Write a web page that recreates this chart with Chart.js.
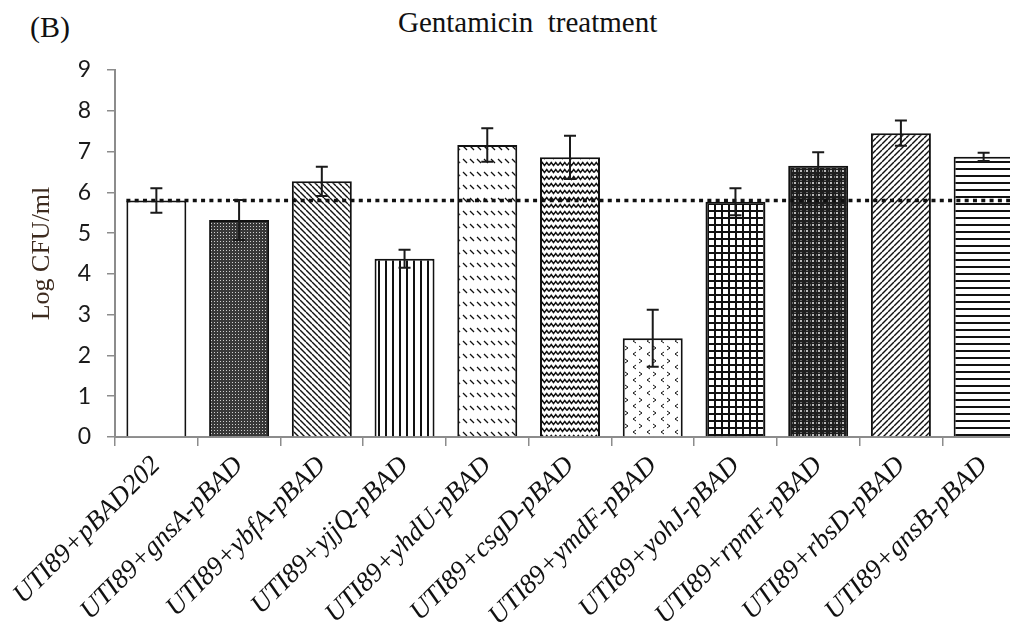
<!DOCTYPE html>
<html>
<head>
<meta charset="utf-8">
<script src="https://cdn.jsdelivr.net/npm/chart.js@4"></script>
<style>
    body { margin: 0; background: #fff; overflow: hidden; width: 1010px; height: 634px; position: relative; }
    .panel { position: absolute; left: 30px; top: 12px; font: 30px 'Liberation Serif', serif; line-height: 30px; color: #111; }
    .title { position: absolute; left: 398px; top: 8px; font: 29px 'Liberation Serif', serif; line-height: 29px; color: #111; white-space: pre; }
    #chart { position: absolute; left: 0; top: 0; }
</style>
</head>
<body>
<div class="panel">(B)</div>
<div class="title">Gentamicin  treatment</div>
<canvas id="chart" width="1030" height="634"></canvas>
<script>
// Data
const categories = ['UTI89+pBAD202', 'UTI89+gnsA-pBAD', 'UTI89+ybfA-pBAD', 'UTI89+yjjQ-pBAD',
    'UTI89+yhdU-pBAD', 'UTI89+csgD-pBAD', 'UTI89+ymdF-pBAD', 'UTI89+yohJ-pBAD',
    'UTI89+rpmF-pBAD', 'UTI89+rbsD-pBAD', 'UTI89+gnsB-pBAD'];
const means = [5.8, 5.32, 6.27, 4.37, 7.16, 6.86, 2.42, 5.77, 6.65, 7.45, 6.87];
const errors = [0.3, 0.49, 0.36, 0.22, 0.41, 0.53, 0.7, 0.33, 0.33, 0.31, 0.1];
const controlLevel = 5.8;
const yMin = 0;
const yMax = 9;

const canvas = document.getElementById('chart');
const ctx = canvas.getContext('2d');

// Build a repeating fill from a small tile
function makePattern(w, h, bg, draw) {
    const c = document.createElement('canvas');
    c.width = w;
    c.height = h;
    const g = c.getContext('2d');
    g.fillStyle = bg;
    g.fillRect(0, 0, w, h);
    g.strokeStyle = '#111';
    g.fillStyle = '#111';
    draw(g, w, h);
    return ctx.createPattern(c, 'repeat');
}

const patterns = [
    '#ffffff',
    // dense dark dots
    makePattern(3, 3, '#383838', function(g) {
        g.fillStyle = '#cfcfcf';
        g.fillRect(1, 1, 1, 1);
    }),
    // backslash hatch
    makePattern(6, 6, '#fff', function(g, s) {
        g.lineWidth = 1.4;
        [-s, 0, s].forEach(function(k) {
            g.beginPath(); g.moveTo(k, 0); g.lineTo(k + s, s); g.stroke();
        });
    }),
    // vertical lines
    makePattern(7, 7, '#fff', function(g) {
        g.fillRect(0, 0, 2, 7);
    }),
    // short dashes in rows
    makePattern(7, 13, '#fff', function(g) {
        g.lineWidth = 1.2;
        g.beginPath(); g.moveTo(1, 3); g.lineTo(5, 7); g.stroke();
    }),
    // waves
    makePattern(9, 7, '#fff', function(g) {
        g.lineWidth = 1.4;
        g.beginPath();
        g.moveTo(0, 4.5);
        g.lineTo(2.25, 1.5);
        g.lineTo(4.5, 4.5);
        g.lineTo(6.75, 1.5);
        g.lineTo(9, 4.5);
        g.stroke();
    }),
    // sparse chevrons
    makePattern(14, 13, '#fff', function(g) {
        g.lineWidth = 1;
        g.beginPath(); g.moveTo(6, 1); g.lineTo(3, 3); g.lineTo(6, 5); g.stroke();
        g.beginPath(); g.moveTo(9, 8); g.lineTo(12, 10); g.lineTo(9, 12); g.stroke();
    }),
    // square grid
    makePattern(7, 7, '#fff', function(g) {
        g.fillRect(0, 0, 7, 2);
        g.fillRect(0, 0, 2, 7);
    }),
    // dark diamonds
    makePattern(6, 6, '#1e1e1e', function(g) {
        g.fillStyle = '#bdbdbd';
        g.fillRect(2, 2, 2, 2);
        g.fillStyle = '#6a6a6a';
        g.fillRect(0, 2, 1, 2);
        g.fillRect(2, 0, 2, 1);
    }),
    // slash hatch
    makePattern(6, 6, '#fff', function(g, s) {
        g.lineWidth = 1.4;
        [-s, 0, s].forEach(function(k) {
            g.beginPath(); g.moveTo(k, s); g.lineTo(k + s, 0); g.stroke();
        });
    }),
    // horizontal lines
    makePattern(7, 7, '#fff', function(g) {
        g.fillRect(0, 0, 7, 2);
    })
];

// Dotted control line and error bars, drawn with the chart's own scales
const overlayPlugin = {
    id: 'overlay',
    afterDatasetsDraw: function(chart) {
        const c = chart.ctx;
        const yScale = chart.scales.y;
        const meta = chart.getDatasetMeta(0);
        const area = chart.chartArea;

        // control level
        const first = meta.data[0];
        const yc = yScale.getPixelForValue(controlLevel);
        c.save();
        c.strokeStyle = '#111';
        c.lineWidth = 3.5;
        c.setLineDash([4, 4.3]);
        c.beginPath();
        c.moveTo(first.x - first.width / 2, yc);
        c.lineTo(area.right, yc);
        c.stroke();
        c.restore();

        // error bars
        c.save();
        c.strokeStyle = '#1a1a1a';
        c.lineWidth = 2;
        meta.data.forEach(function(bar, i) {
            const top = yScale.getPixelForValue(means[i] + errors[i]);
            const bottom = yScale.getPixelForValue(means[i] - errors[i]);
            c.beginPath();
            c.moveTo(bar.x, top); c.lineTo(bar.x, bottom);
            c.moveTo(bar.x - 6, top); c.lineTo(bar.x + 6, top);
            c.moveTo(bar.x - 6, bottom); c.lineTo(bar.x + 6, bottom);
            c.stroke();
        });
        c.restore();
    }
};

new Chart(ctx, {
    type: 'bar',
    data: {
        labels: categories,
        datasets: [{
            data: means,
            backgroundColor: patterns,
            borderColor: '#111',
            borderWidth: 2,
            barPercentage: 0.725,
            categoryPercentage: 1
        }]
    },
    options: {
        responsive: false,
        animation: false,
        layout: { padding: { top: 70, right: 5, bottom: 0, left: 0 } },
        plugins: {
            legend: { display: false },
            tooltip: { enabled: false }
        },
        scales: {
            x: {
                afterFit: function(scale) { scale.height = 197; },
                grid: { drawOnChartArea: false, tickLength: 9, color: '#8c8c8c', lineWidth: 1.5 },
                border: { color: '#8c8c8c', width: 2 },
                ticks: {
                    autoSkip: false,
                    minRotation: 45,
                    maxRotation: 45,
                    padding: 4,
                    color: '#111',
                    font: { family: "'Liberation Serif', serif", size: 27, style: 'italic' }
                }
            },
            y: {
                min: yMin,
                max: yMax,
                afterFit: function(scale) { scale.width = 115; },
                grid: { drawOnChartArea: false, tickLength: 8, color: '#8c8c8c', lineWidth: 1.5 },
                border: { color: '#8c8c8c', width: 2 },
                ticks: {
                    stepSize: 1,
                    padding: 16,
                    color: '#1a1a1a',
                    font: { family: 'Lato', size: 23 }
                },
                title: {
                    display: true,
                    text: 'Log CFU/ml',
                    color: '#3d2b1f',
                    padding: { top: 27, bottom: 0 },
                    font: { family: "'Liberation Serif', serif", size: 26 }
                }
            }
        }
    },
    plugins: [overlayPlugin]
});
</script>
</body>
</html>
